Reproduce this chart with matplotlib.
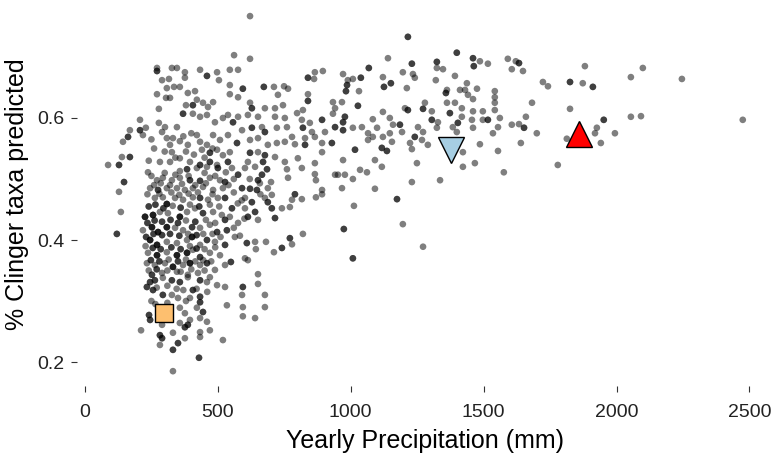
import numpy as np
import matplotlib
matplotlib.use("Agg")
import matplotlib.pyplot as plt

# (yearly precipitation mm, % clinger taxa predicted, number of overlapping sites)
sites_nw = [
    (621,0.767,1),(271,0.682,1),(271,0.677,2),(327,0.682,1),(346,0.682,1),(376,0.675,1),(376,0.666,1),
    (433,0.679,1),(459,0.669,2),(497,0.675,1),(504,0.662,1),(290,0.662,1),(316,0.664,1),(335,0.651,1),
    (357,0.651,1),(308,0.649,1),(271,0.639,1),(320,0.633,1),(305,0.633,1),(387,0.641,1),(414,0.644,1),
    (421,0.630,1),(380,0.621,1),(406,0.621,2),(444,0.625,1),(463,0.618,1),(482,0.626,1),(278,0.615,1),
    (369,0.607,2),(406,0.607,1),(433,0.602,1),(459,0.605,1),(489,0.593,1),(519,0.600,1),(207,0.597,1),
    (169,0.580,1),(207,0.580,2),(229,0.584,1),(162,0.569,2),(143,0.561,1),(218,0.572,1),(278,0.592,1),
    (301,0.585,1),(346,0.585,1),(290,0.577,1),(308,0.567,1),(331,0.567,1),(357,0.562,1),(387,0.556,1),
    (421,0.572,1),(433,0.561,1),(459,0.556,1),(482,0.572,1),(508,0.564,1),(320,0.556,1),(327,0.544,1),
    (440,0.548,1),(470,0.543,2),(497,0.548,1),(519,0.539,1),(282,0.528,1),(320,0.528,1),(357,0.534,1),
    (395,0.528,1),(433,0.523,2),(470,0.528,2),(497,0.523,1),(139,0.536,1),(169,0.536,2),(87,0.523,1),
    (128,0.523,2),
]

sites_n_mid = [
    (561,0.703,1),(621,0.697,1),(545,0.679,1),(576,0.679,1),(865,0.675,1),(895,0.677,1),(839,0.666,2),
    (862,0.664,1),(545,0.654,1),(594,0.648,2),(673,0.651,2),(711,0.651,1),(749,0.652,1),(764,0.648,1),
    (726,0.638,1),(839,0.639,1),(839,0.628,2),(545,0.639,1),(576,0.634,1),(621,0.625,1),(628,0.616,2),
    (677,0.616,1),(715,0.616,1),(745,0.621,1),(798,0.608,1),(820,0.613,1),(933,0.626,1),(941,0.616,1),
    (933,0.607,1),(538,0.605,1),(576,0.602,1),(613,0.605,1),(651,0.602,1),(715,0.602,1),(752,0.600,1),
    (816,0.597,1),(846,0.592,1),(892,0.597,2),(941,0.585,2),(557,0.593,2),(591,0.580,1),(628,0.584,2),
    (677,0.577,2),(666,0.585,1),(722,0.584,1),(760,0.585,1),(820,0.584,2),(854,0.577,1),(903,0.577,1),
    (779,0.569,1),(828,0.567,1),(865,0.569,1),(538,0.572,1),(572,0.559,2),(621,0.564,1),(651,0.567,1),
    (688,0.556,1),(722,0.559,1),(752,0.561,1),(790,0.557,1),(828,0.556,2),(892,0.559,1),(929,0.559,2),
    (545,0.544,1),(621,0.543,2),(651,0.544,1),(677,0.539,2),(715,0.536,1),(752,0.528,1),(801,0.534,1),
    (865,0.526,1),(892,0.544,1),(538,0.528,2),(613,0.528,1),(670,0.528,2),
]

sites_ne = [
    (1215,0.733,2),(1140,0.698,1),(1230,0.689,2),(1324,0.692,2),(1399,0.707,2),(1460,0.698,2),
    (1463,0.685,2),(1068,0.682,2),(971,0.672,1),(989,0.662,1),(1008,0.664,1),(1038,0.666,2),
    (986,0.654,2),(982,0.644,2),(1031,0.644,1),(1121,0.667,1),(1125,0.651,2),(1151,0.657,2),
    (1196,0.675,1),(1234,0.672,1),(1241,0.666,1),(1211,0.649,1),(1324,0.682,1),(1347,0.680,1),
    (1320,0.662,1),(1392,0.669,1),(1437,0.657,1),(1430,0.646,1),(1475,0.648,1),(1362,0.646,1),
    (1358,0.641,2),(1411,0.646,1),(1441,0.638,1),(1460,0.631,1),(967,0.626,1),(1027,0.620,2),
    (978,0.602,2),(1083,0.598,1),(1121,0.610,1),(1147,0.600,1),(1204,0.616,1),(1215,0.613,2),
    (1272,0.615,2),(1305,0.611,1),(1279,0.625,1),(1362,0.625,1),(1392,0.625,1),(1418,0.616,1),
    (1460,0.611,1),(1373,0.608,2),(1418,0.602,1),(1403,0.592,2),(1328,0.593,1),(1305,0.597,2),
    (1324,0.584,1),(1272,0.577,1),(1241,0.569,2),(1185,0.589,2),(1159,0.589,1),(1099,0.584,1),
    (1147,0.575,1),(1121,0.569,1),(1193,0.577,1),(1223,0.559,1),(1268,0.564,1),(1290,0.556,1),
    (1249,0.526,1),(1230,0.549,1),(1399,0.577,1),(1384,0.585,1),(1456,0.597,1),(1460,0.584,1),
    (1422,0.544,1),(1467,0.526,1),(1422,0.520,1),(1336,0.498,1),(1230,0.495,1),(971,0.593,2),
    (971,0.580,2),(1008,0.584,1),(1042,0.585,1),(1065,0.575,1),(1083,0.569,1),(1016,0.548,2),
    (1065,0.564,1),(1117,0.551,2),(1136,0.546,2),(1155,0.561,1),(1091,0.531,1),(1117,0.520,1),
    (1035,0.515,1),(1061,0.511,1),(978,0.507,1),(1008,0.500,1),(1091,0.484,1),(971,0.531,1),
    (1253,0.585,1),
]

sites_far_east = [
    (1486,0.693,1),(1516,0.689,1),(1591,0.697,1),(1621,0.693,1),(1633,0.690,2),(1606,0.680,1),
    (1648,0.677,1),(1881,0.685,1),(2099,0.682,1),(2054,0.667,1),(2246,0.664,1),(1723,0.659,1),
    (1742,0.652,1),(1825,0.659,2),(1873,0.657,1),(1911,0.651,2),(1542,0.644,1),(1542,0.634,1),
    (1542,0.625,1),(1542,0.613,1),(1497,0.611,1),(1682,0.625,1),(1825,0.615,1),(1516,0.597,2),
    (1497,0.597,1),(1561,0.600,1),(1554,0.585,1),(1606,0.589,1),(1633,0.590,1),(1652,0.584,2),
    (1659,0.602,1),(1535,0.575,1),(1700,0.575,1),(1640,0.559,1),(1554,0.546,1),(1486,0.557,1),
    (1576,0.511,1),(1779,0.523,1),(1813,0.566,1),(1952,0.597,2),(1926,0.584,1),(1919,0.575,1),
    (1941,0.559,1),(1994,0.575,1),(2054,0.602,1),(2092,0.603,1),(2475,0.597,1),
]

sites_w_mid = [
    (147,0.495,2),(128,0.479,1),(135,0.446,1),(120,0.410,2),(237,0.511,1),(357,0.513,1),(384,0.516,2),
    (421,0.518,1),(459,0.520,1),(500,0.518,2),(530,0.511,1),(271,0.498,1),(293,0.502,1),(327,0.498,1),
    (357,0.502,1),(395,0.498,2),(433,0.497,2),(470,0.502,1),(508,0.498,1),(245,0.485,1),(275,0.482,2),
    (308,0.485,1),(346,0.485,1),(376,0.482,1),(406,0.485,1),(444,0.487,1),(482,0.482,1),(519,0.485,1),
    (263,0.469,1),(293,0.470,1),(308,0.459,3),(339,0.469,1),(369,0.466,1),(406,0.470,1),(433,0.469,2),
    (463,0.466,1),(500,0.469,1),(226,0.438,3),(256,0.441,3),(282,0.446,1),(312,0.444,1),(357,0.438,3),
    (384,0.446,1),(414,0.452,1),(444,0.444,2),(482,0.446,1),(515,0.441,1),(218,0.416,1),(252,0.421,3),
    (275,0.413,3),(308,0.421,3),(339,0.420,1),(369,0.416,1),(403,0.421,2),(433,0.420,1),(470,0.425,1),
    (497,0.413,2),(245,0.400,3),(271,0.392,3),(308,0.397,1),(346,0.395,1),(384,0.400,1),(403,0.405,3),
    (433,0.392,1),(459,0.400,2),(489,0.397,1),(237,0.379,1),(271,0.375,3),(308,0.380,1),(346,0.375,3),
    (384,0.379,3),(406,0.384,1),(433,0.372,2),(470,0.379,1),(508,0.375,1),(233,0.362,1),(263,0.359,1),
    (301,0.362,1),(331,0.356,3),(369,0.359,1),(395,0.362,3),(433,0.359,1),(459,0.362,2),(489,0.351,1),
    (527,0.359,1),(252,0.343,2),(290,0.346,1),(346,0.348,1),(387,0.343,1),(425,0.346,1),(470,0.339,1),
]

sites_core = [
    (250,0.505,1),(300,0.510,1),(340,0.507,1),(390,0.505,1),(450,0.510,1),(490,0.505,1),
    (260,0.490,1),(285,0.493,1),(320,0.490,1),(365,0.492,1),(415,0.490,1),(455,0.493,1),(540,0.490,1),
    (235,0.475,1),(280,0.476,1),(325,0.478,1),(355,0.474,1),(390,0.476,1),(425,0.478,1),(480,0.475,1),
    (560,0.478,1),(240,0.455,2),(265,0.458,2),(295,0.452,2),(330,0.456,1),(360,0.453,2),(395,0.458,1),
    (430,0.455,2),(470,0.458,1),(505,0.455,1),(575,0.460,1),(235,0.428,2),(262,0.432,2),(290,0.430,2),
    (322,0.433,2),(350,0.428,2),(380,0.432,1),(415,0.430,2),(455,0.433,1),(490,0.428,1),(230,0.405,2),
    (258,0.410,2),(290,0.408,2),(320,0.410,2),(355,0.407,2),(388,0.410,1),(420,0.408,2),(445,0.410,1),
    (480,0.410,1),(510,0.405,1),(228,0.390,1),(255,0.387,2),(285,0.385,2),(325,0.388,2),(360,0.385,2),
    (395,0.390,1),(420,0.386,2),(450,0.385,1),(490,0.388,1),(248,0.367,2),(280,0.365,2),(315,0.368,1),
    (350,0.365,2),(380,0.368,1),(415,0.365,1),(445,0.367,1),(475,0.365,1),(240,0.350,1),(270,0.352,2),
    (310,0.350,1),(360,0.348,1),(400,0.352,1),(450,0.350,1),(270,0.322,1),(310,0.325,1),(345,0.320,1),
    (370,0.318,1),(420,0.320,1),(460,0.315,1),(250,0.300,1),(265,0.295,1),(310,0.297,1),(380,0.300,1),
    (240,0.530,1),(260,0.550,1),(300,0.545,1),(340,0.535,1),(380,0.545,1),(410,0.540,1),(450,0.535,1),
    (480,0.550,1),(250,0.565,1),(370,0.570,1),(400,0.575,1),(560,0.500,1),(590,0.465,1),(620,0.500,1),
    (660,0.475,1),(700,0.495,1),(640,0.520,1),(600,0.435,1),(560,0.420,1),
]

sites_w_low = [
    (245,0.331,2),(263,0.334,2),(293,0.338,1),(327,0.334,2),(357,0.331,2),(387,0.339,1),(433,0.334,2),
    (459,0.331,1),(497,0.326,1),(527,0.323,1),(233,0.323,2),(256,0.318,2),(293,0.310,2),(327,0.310,1),
    (350,0.305,1),(395,0.305,1),(406,0.318,2),(433,0.307,2),(433,0.298,2),(534,0.293,1),(241,0.277,2),
    (245,0.269,2),(211,0.252,1),(290,0.261,1),(357,0.289,1),(376,0.280,1),(395,0.269,1),(357,0.264,1),
    (376,0.257,2),(387,0.261,2),(421,0.289,1),(444,0.282,2),(433,0.272,1),(459,0.266,1),(470,0.252,1),
    (433,0.249,1),(433,0.241,1),(519,0.236,1),(282,0.244,2),(290,0.239,2),(282,0.228,1),(331,0.248,1),
    (350,0.231,2),(331,0.220,2),(376,0.239,1),(429,0.207,2),(331,0.185,1),
]

sites_center = [
    (941,0.507,1),(952,0.507,1),(865,0.508,1),(869,0.498,1),(892,0.482,1),(892,0.475,1),(967,0.485,1),
    (869,0.470,1),(816,0.467,1),(790,0.475,2),(779,0.466,1),(771,0.454,1),(741,0.452,1),(816,0.518,1),
    (760,0.516,1),(764,0.502,1),(974,0.418,2),(1008,0.370,2),(820,0.410,1),(771,0.403,2),(779,0.393,1),
    (741,0.387,2),(711,0.380,1),(681,0.397,1),(640,0.397,1),(609,0.395,2),(643,0.385,1),(602,0.370,1),
    (613,0.367,1),(651,0.344,1),(549,0.364,2),(527,0.392,2),(564,0.405,1),(583,0.407,1),(602,0.518,1),
    (527,0.495,2),(591,0.485,2),(621,0.484,2),(647,0.482,2),(651,0.498,2),(666,0.507,2),(685,0.516,2),
    (658,0.493,1),(688,0.485,1),(703,0.474,1),(688,0.462,2),(703,0.452,2),(677,0.469,1),(628,0.462,2),
    (602,0.469,1),(602,0.452,1),(640,0.446,2),(613,0.438,2),(651,0.433,1),(553,0.452,2),(545,0.438,1),
    (576,0.428,1),(527,0.469,2),(527,0.433,2),(534,0.416,2),(715,0.436,2),(553,0.518,1),(576,0.507,2),
    (1174,0.467,2),(1012,0.456,1),(1196,0.426,1),(1272,0.389,1),(651,0.328,1),(594,0.323,2),
    (591,0.310,1),(677,0.310,1),(677,0.290,1),(594,0.290,1),(594,0.275,1),(640,0.272,1),
]

# highlighted sites
hl_precip = [297, 1377, 1858]
hl_clinger = [0.280, 0.548, 0.573]
hl_marker = ["s", "v", "^"]
hl_fill = ["#FDBF6F", "#A6CEE3", "#FF0000"]
hl_size = [13, 19, 19]

x_ticks = [0, 500, 1000, 1500, 2000, 2500]
y_ticks = [0.2, 0.4, 0.6]

all_sites = np.array(sites_nw + sites_n_mid + sites_ne + sites_far_east
                     + sites_w_mid + sites_core + sites_w_low + sites_center)
reps = all_sites[:, 2].astype(int)
xs = np.repeat(all_sites[:, 0], reps)
ys = np.repeat(all_sites[:, 1], reps)

plt.rcParams['font.family'] = ['Liberation Sans', 'DejaVu Sans']

W, H = 772, 454
fig = plt.figure(figsize=(W / 100, H / 100), dpi=100)
ax = fig.add_axes([77 / W, (H - 386) / H, 695 / W, 383 / H])

ax.scatter(xs, ys, s=23, c="black", alpha=0.5, edgecolors="none", zorder=2)
for px, py, m, fc, ms in zip(hl_precip, hl_clinger, hl_marker, hl_fill, hl_size):
    ax.plot([px], [py], marker=m, markersize=ms, markerfacecolor=fc,
            markeredgecolor="black", markeredgewidth=1.0, linestyle="none", zorder=3)

ax.set_xlim(-30, 2585)
ax.set_ylim(0.1607, 0.7885)
ax.set_xticks(x_ticks)
ax.set_xticklabels([str(v) for v in x_ticks])
ax.set_yticks(y_ticks)
ax.set_yticklabels([f"{v:.1f}" for v in y_ticks])
for s in ax.spines.values():
    s.set_visible(False)
ax.tick_params(axis="both", direction="out", length=4, width=0.8, color="#333333",
               labelsize=14, labelcolor="#222222")
ax.tick_params(axis="x", pad=9)
ax.tick_params(axis="y", pad=5)
ax.set_xlabel("Yearly Precipitation (mm)", fontsize=18, color="black", labelpad=6)
ax.set_ylabel("% Clinger taxa predicted", fontsize=18, color="black", labelpad=6)

fig.savefig("out.png", dpi=100)
